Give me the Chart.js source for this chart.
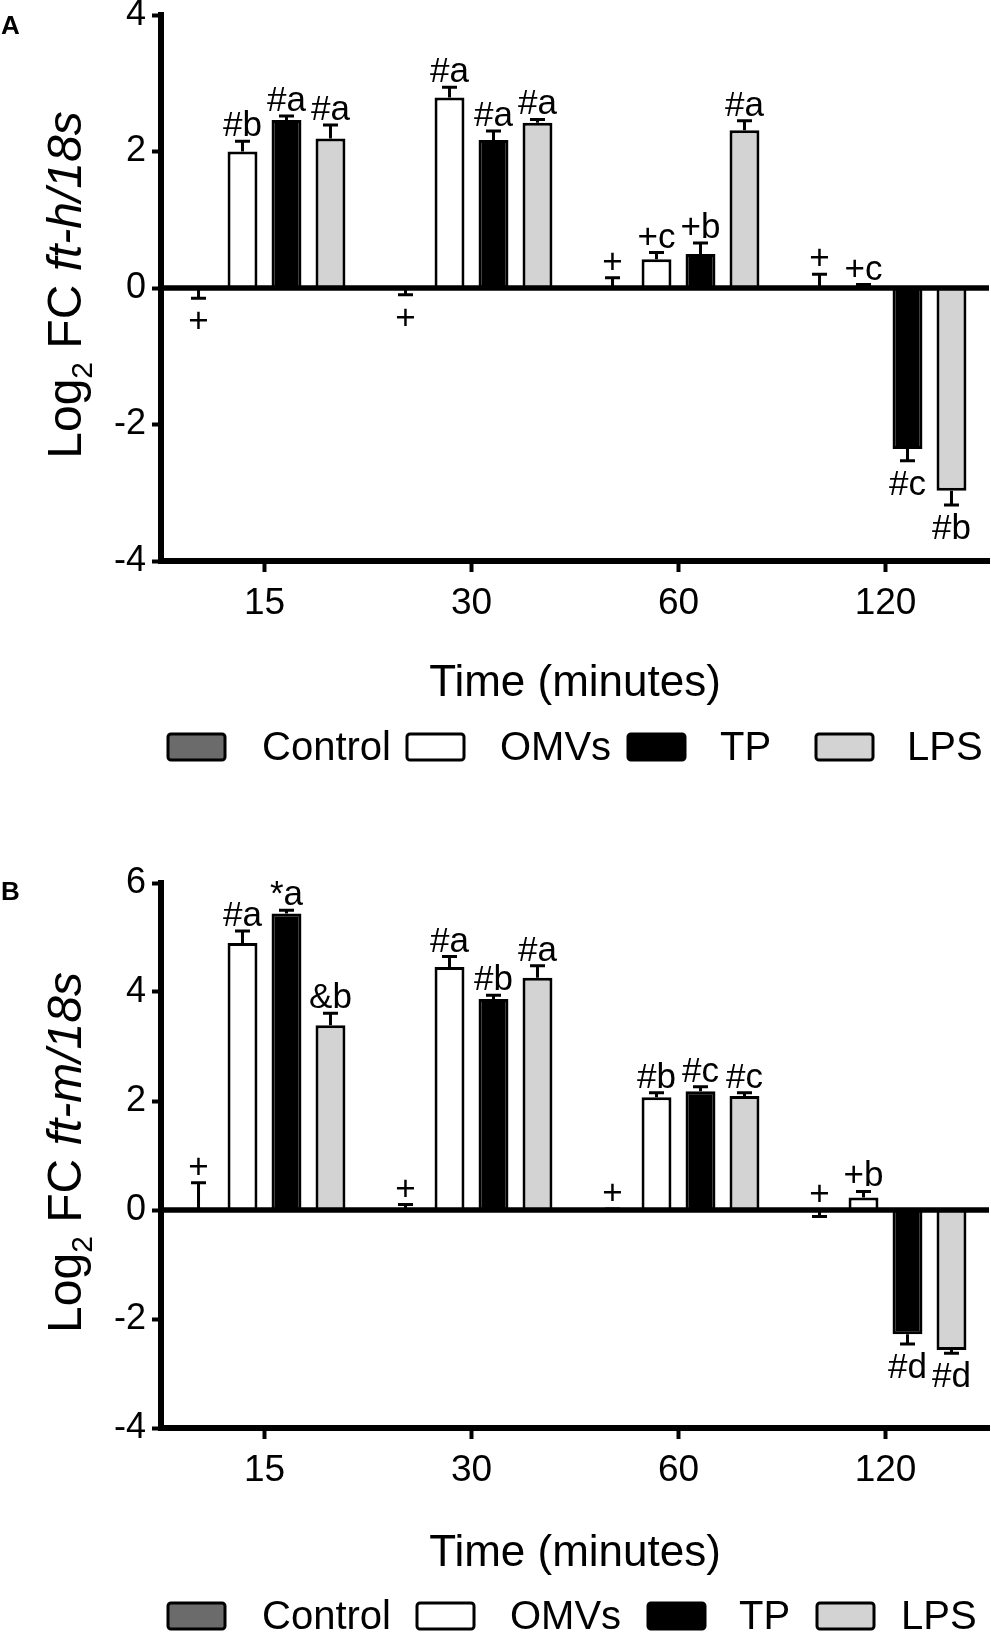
<!DOCTYPE html>
<html>
<head>
<meta charset="utf-8">
<script src="https://cdn.jsdelivr.net/npm/chart.js@4.4.1/dist/chart.umd.min.js"></script>
<style>
  body { margin: 0; background: #fff; }
  #wrap { position: relative; width: 991px; height: 1635px; }
  canvas { position: absolute; left: 0; }
</style>
</head>
<body>
<div id="wrap">
  <canvas id="chartA" width="991" height="790" style="top:0"></canvas>
  <canvas id="chartB" width="991" height="845" style="top:790px"></canvas>
</div>
<script>
var times = ['15', '30', '60', '120'];
var groups = ['Control', 'OMVs', 'TP', 'LPS'];
var colors = ['#6b6b6b', '#ffffff', '#000000', '#d3d3d3'];

// panel A : ft-h/18s
var controlA = [-0.03, -0.02, 0.0, 0.0];
var omvsA = [2.0, 2.79, 0.42, 0.03];
var tpA = [2.46, 2.17, 0.50, -2.36];
var lpsA = [2.19, 2.42, 2.31, -2.97];
var controlErrA = [0.12, 0.08, 0.15, 0.2];
var omvsErrA = [0.15, 0.15, 0.10, 0.02];
var tpErrA = [0.06, 0.13, 0.16, 0.17];
var lpsErrA = [0.2, 0.05, 0.14, 0.21];
var controlNotesA = ['+', '+', '+', '+'];
var omvsNotesA = ['#b', '#a', '+c', '+c'];
var tpNotesA = ['#a', '#a', '+b', '#c'];
var lpsNotesA = ['#a', '#a', '#a', '#b'];
var controlSideA = ['down', 'down', 'up', 'up'];
var yTicksA = [-4, -2, 0, 2, 4];

// panel B : ft-m/18s
var controlB = [0.0, 0.0, 0.0, -0.02];
var omvsB = [4.90, 4.46, 2.07, 0.23];
var tpB = [5.44, 3.87, 2.18, -2.28];
var lpsB = [3.39, 4.26, 2.09, -2.57];
var controlErrB = [0.5, 0.1, 0.02, 0.1];
var omvsErrB = [0.22, 0.19, 0.08, 0.11];
var tpErrB = [0.06, 0.07, 0.08, 0.18];
var lpsErrB = [0.22, 0.22, 0.06, 0.06];
var controlNotesB = ['+', '+', '+', '+'];
var omvsNotesB = ['#a', '#a', '#b', '+b'];
var tpNotesB = ['*a', '#b', '#c', '#d'];
var lpsNotesB = ['&b', '#a', '#c', '#d'];
var controlSideB = ['up', 'up', 'up', 'up'];
var yTicksB = [-4, -2, 0, 2, 4, 6];

var FONT = '"Liberation Sans", Arial, Helvetica, sans-serif';

function dataset(i, values, errs, notes, side) {
  return {
    label: groups[i],
    data: values,
    err: errs,
    notes: notes,
    side: side,
    backgroundColor: colors[i],
    borderColor: '#000',
    borderWidth: 3,
    borderSkipped: 'start',
    categoryPercentage: 0.85,
    barPercentage: 0.68
  };
}

// zero line, error bars and the letters above / below them
var extras = {
  id: 'extras',
  afterDatasetsDraw: function (chart) {
    var ctx = chart.ctx, y = chart.scales.y, area = chart.chartArea;
    var zero = y.getPixelForValue(0);
    ctx.save();
    ctx.strokeStyle = '#000';
    ctx.lineWidth = 5.5;
    ctx.beginPath();
    ctx.moveTo(area.left, zero);
    ctx.lineTo(area.right, zero);
    ctx.stroke();

    chart.data.datasets.forEach(function (ds, i) {
      chart.getDatasetMeta(i).data.forEach(function (bar, j) {
        var v = ds.data[j], e = ds.err[j];
        var down = v < 0;
        var start = y.getPixelForValue(v);
        var tip = y.getPixelForValue(down ? v - e : v + e);
        ctx.lineWidth = 3;
        ctx.beginPath();
        ctx.moveTo(bar.x, start);
        ctx.lineTo(bar.x, tip);
        ctx.moveTo(bar.x - 7.5, tip);
        ctx.lineTo(bar.x + 7.5, tip);
        ctx.stroke();

        var side = ds.side ? ds.side[j] : (down ? 'down' : 'up');
        ctx.font = '35px ' + FONT;
        ctx.fillStyle = '#000';
        ctx.textAlign = 'center';
        ctx.textBaseline = 'alphabetic';
        var ty = side === 'down' ? Math.max(tip, zero) + 34 : Math.min(tip, zero) - 5;
        ctx.fillText(ds.notes[j], bar.x, ty);
      });
    });
    ctx.restore();
  },
  afterDraw: function (chart, args, opts) {
    var ctx = chart.ctx, area = chart.chartArea;
    ctx.save();
    ctx.fillStyle = '#000';

    // panel letter
    ctx.font = 'bold 26px ' + FONT;
    ctx.textAlign = 'left';
    ctx.textBaseline = 'alphabetic';
    ctx.fillText(opts.letter, 1, opts.letterY);

    // y axis title: Log2 FC <i>gene</i>/18s
    var parts = [
      { t: 'Log', f: '48px ' + FONT, dy: 0 },
      { t: '2', f: '30px ' + FONT, dy: 11 },
      { t: ' FC ', f: '48px ' + FONT, dy: 0 },
      { t: opts.gene + '/18s', f: 'italic 48px ' + FONT, dy: 0 }
    ];
    var total = 0;
    parts.forEach(function (p) { ctx.font = p.f; p.w = ctx.measureText(p.t).width; total += p.w; });
    ctx.translate(81, (area.top + area.bottom) / 2 - 3);
    ctx.rotate(-Math.PI / 2);
    var x = -total / 2;
    parts.forEach(function (p) {
      ctx.font = p.f;
      ctx.fillText(p.t, x, p.dy);
      x += p.w;
    });
    ctx.setTransform(1, 0, 0, 1, 0, 0);
    ctx.restore();

    // legend
    ctx.save();
    var ly = area.bottom + opts.legendGap;
    ctx.font = '40px ' + FONT;
    ctx.textBaseline = 'middle';
    ctx.textAlign = 'left';
    chart.data.datasets.forEach(function (ds, i) {
      var bx = opts.boxX[i];
      ctx.beginPath();
      ctx.roundRect(bx, ly - 13, 57, 26, 3);
      ctx.fillStyle = ds.backgroundColor;
      ctx.fill();
      ctx.lineWidth = 3;
      ctx.strokeStyle = '#000';
      ctx.stroke();
      ctx.fillStyle = '#000';
      ctx.fillText(ds.label, opts.textX[i], ly + 2);
    });
    ctx.restore();
  }
};

function makeChart(id, sets, ticks, o) {
  return new Chart(document.getElementById(id), {
    type: 'bar',
    data: { labels: times, datasets: sets },
    plugins: [extras],
    options: {
      responsive: false,
      animation: false,
      layout: { padding: { left: 0, right: 2, top: o.top, bottom: 0 } },
      plugins: {
        legend: { display: false },
        tooltip: { enabled: false },
        extras: o
      },
      scales: {
        x: {
          grid: { drawOnChartArea: false, offset: false, tickLength: 11, tickWidth: 4, tickColor: '#000' },
          border: { display: true, color: '#000', width: 6 },
          ticks: { color: '#000', font: { size: 37, family: FONT }, padding: 10, maxRotation: 0 },
          title: {
            display: true, text: 'Time (minutes)', color: '#000',
            font: { size: 44, family: FONT }, padding: { top: 0, bottom: o.titlePad }
          },
          afterFit: function (s) {
            s.height = o.xHeight;
            s.paddingLeft = 0; s.paddingRight = 0;
          }
        },
        y: {
          min: ticks[0],
          max: ticks[ticks.length - 1],
          afterBuildTicks: function (s) { s.ticks = ticks.map(function (v) { return { value: v }; }); },
          grid: { drawOnChartArea: false, tickLength: 9, tickWidth: 4, tickColor: '#000' },
          border: { display: true, color: '#000', width: 6 },
          ticks: { color: '#000', font: { size: 36, family: FONT }, padding: 6 },
          afterFit: function (s) {
            s.width = 161;
            s.paddingTop = 0; s.paddingBottom = 0;
          }
        }
      }
    }
  });
}

makeChart('chartA', [
  dataset(0, controlA, controlErrA, controlNotesA, controlSideA),
  dataset(1, omvsA, omvsErrA, omvsNotesA),
  dataset(2, tpA, tpErrA, tpNotesA),
  dataset(3, lpsA, lpsErrA, lpsNotesA)
], yTicksA, {
  top: 15, xHeight: 229, titlePad: 80, legendGap: 186,
  letter: 'A', letterY: 34, gene: 'ft-h',
  boxX: [168, 407, 628, 816], textX: [262, 500, 720, 907]
});

makeChart('chartB', [
  dataset(0, controlB, controlErrB, controlNotesB, controlSideB),
  dataset(1, omvsB, omvsErrB, omvsNotesB),
  dataset(2, tpB, tpErrB, tpNotesB),
  dataset(3, lpsB, lpsErrB, lpsNotesB)
], yTicksB, {
  top: 93, xHeight: 207, titlePad: 55, legendGap: 188,
  letter: 'B', letterY: 110, gene: 'ft-m',
  boxX: [168, 417, 648, 817], textX: [262, 510, 739, 901]
});
</script>
</body>
</html>
